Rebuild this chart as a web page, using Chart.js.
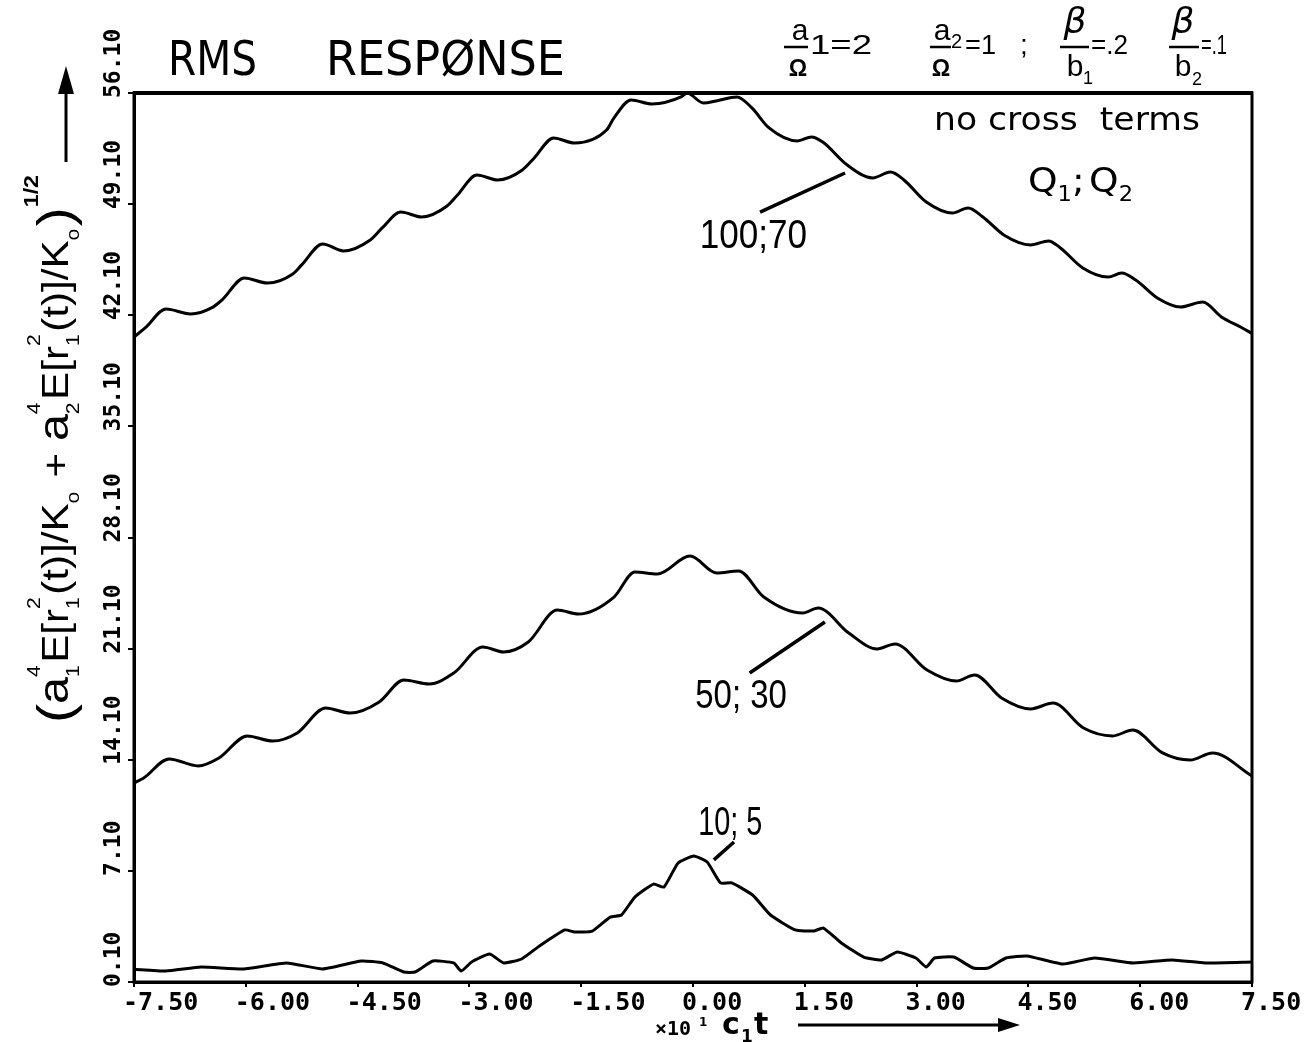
<!DOCTYPE html>
<html>
<head>
<meta charset="utf-8">
<script src="https://cdn.jsdelivr.net/npm/chart.js@4.4.0/dist/chart.umd.min.js"></script>
<style>
  html, body { margin: 0; padding: 0; background: #fff; }
  canvas { display: block; }
</style>
</head>
<body>
<canvas id="c" width="1309" height="1042"></canvas>
<script>
// ---------------- data ----------------
const xTickValues = [-7.5, -6, -4.5, -3, -1.5, 0, 1.5, 3, 4.5, 6, 7.5];
const xTickLabels = ['-7.50', '-6.00', '-4.50', '-3.00', '-1.50', '0.00', '1.50', '3.00', '4.50', '6.00', '7.50'];
const yTickValues = [0.1, 7.1, 14.1, 21.1, 28.1, 35.1, 42.1, 49.1, 56.1];
const yTickLabels = ['0.10', '7.10', '14.10', '21.10', '28.10', '35.10', '42.10', '49.10', '56.10'];

// Q1;Q2 = 100;70
const q100X = [-7.5, -7.35, -7.07, -6.74, -6.46, -6.32, -6.02, -5.71, -5.37, -5.25, -4.97, -4.69, -4.33, -4.17, -3.92, -3.64, -3.30, -3.16, -2.90, -2.62, -2.29, -2.13, -1.87, -1.59, -1.16, -1.06, -0.83, -0.55, -0.16, -0.08, 0.14, 0.31, 0.59, 0.79, 1.02, 1.40, 1.59, 1.74, 2.07, 2.41, 2.65, 2.83, 3.13, 3.48, 3.69, 3.89, 4.17, 4.53, 4.77, 4.93, 5.23, 5.57, 5.75, 5.94, 6.23, 6.54, 6.84, 7.09, 7.37, 7.5];
const q100Y = [40.73, 41.30, 42.49, 42.18, 42.56, 43.06, 44.45, 44.13, 44.70, 45.27, 46.59, 46.15, 46.84, 47.60, 48.60, 48.29, 48.98, 49.67, 50.93, 50.62, 51.25, 52.01, 53.27, 52.95, 53.77, 54.53, 55.66, 55.41, 55.85, 56.10, 55.47, 55.60, 55.85, 55.16, 53.90, 53.08, 53.33, 53.01, 51.56, 50.75, 51.12, 50.62, 49.23, 48.54, 48.86, 48.29, 47.16, 46.53, 46.78, 46.34, 45.08, 44.51, 44.76, 44.32, 43.19, 42.62, 42.93, 41.99, 41.30, 40.95];

// Q1;Q2 = 50;30
const q50X = [-7.5, -7.37, -7.03, -6.64, -6.36, -5.98, -5.64, -5.31, -4.93, -4.60, -4.21, -3.88, -3.54, -3.21, -2.82, -2.54, -2.21, -1.82, -1.54, -1.06, -0.78, -0.48, -0.04, 0.32, 0.61, 0.95, 1.47, 1.68, 2.09, 2.47, 2.71, 3.14, 3.53, 3.78, 4.14, 4.53, 4.83, 5.24, 5.63, 5.90, 6.30, 6.67, 6.97, 7.5];
const q50Y = [12.64, 12.95, 14.15, 13.71, 14.21, 15.60, 15.28, 15.79, 17.36, 17.04, 17.74, 19.12, 18.87, 19.56, 21.20, 20.89, 21.52, 23.53, 23.28, 24.35, 25.93, 25.80, 26.93, 25.86, 25.99, 24.35, 23.34, 23.66, 22.08, 21.08, 21.39, 19.75, 19.06, 19.44, 17.99, 17.30, 17.67, 16.10, 15.60, 15.97, 14.53, 14.08, 14.53, 13.08];

// Q1;Q2 = 10;5
const q10X = [-7.5, -7.07, -6.60, -6.03, -5.45, -4.97, -4.45, -4.16, -3.88, -3.73, -3.49, -3.21, -3.11, -2.97, -2.73, -2.54, -2.30, -2.06, -1.72, -1.59, -1.35, -1.11, -0.96, -0.78, -0.53, -0.39, -0.20, 0.01, 0.19, 0.37, 0.52, 0.80, 1.04, 1.37, 1.62, 1.75, 1.99, 2.29, 2.53, 2.74, 2.99, 3.13, 3.24, 3.50, 3.76, 3.96, 4.20, 4.48, 4.96, 5.39, 5.91, 6.43, 6.87, 7.5];
const q10Y = [0.90, 0.79, 1.04, 0.92, 1.30, 0.92, 1.42, 1.30, 0.73, 0.73, 1.42, 1.30, 0.79, 1.36, 1.86, 1.30, 1.55, 2.37, 3.38, 3.25, 3.31, 4.19, 4.32, 5.45, 6.27, 6.08, 7.60, 8.04, 7.66, 6.34, 6.34, 5.58, 4.32, 3.38, 3.31, 3.50, 2.56, 1.67, 1.49, 1.99, 1.61, 1.04, 1.61, 1.67, 0.98, 0.98, 1.61, 1.74, 1.23, 1.61, 1.30, 1.49, 1.30, 1.36];

const seriesLabels = ['100;70', '50; 30', '10; 5'];

// ---------------- helpers ----------------
function pts(xs, ys) { return xs.map((x, i) => ({ x: x, y: ys[i] })); }

function richWidth(ctx, segs, fam, base) { return drawRich(ctx, segs, fam, base, false); }
function drawRich(ctx, segs, fam, base, draw) {
  let x = 0;
  for (const s of segs) {
    if (s.t !== undefined) {
      const size = base * (s.scale || 1);
      ctx.font = (s.style || '') + ' ' + size + 'px ' + fam;
      const dy = (s.dy || 0) * base;
      if (draw) ctx.fillText(s.t, x, dy);
      x += ctx.measureText(s.t).width + (s.gap || 0) * base;
    } else {
      const size = base * 0.5;
      ctx.font = size + 'px ' + fam;
      let w = 0;
      if (s.sup) { if (draw) ctx.fillText(s.sup, x, -0.75 * base); w = Math.max(w, ctx.measureText(s.sup).width); }
      if (s.sub) { if (draw) ctx.fillText(s.sub, x, 0.3 * base); w = Math.max(w, ctx.measureText(s.sub).width); }
      x += w + 0.06 * base;
    }
  }
  return x;
}
function fitText(ctx, text, x, y, targetW, font) {
  ctx.save();
  ctx.font = font;
  ctx.textAlign = 'left';
  ctx.textBaseline = 'alphabetic';
  const w = ctx.measureText(text).width;
  ctx.translate(x, y);
  ctx.scale(targetW / w, 1);
  ctx.fillText(text, 0, 0);
  ctx.restore();
}
function txt(ctx, text, x, y, font, align) {
  ctx.font = font;
  ctx.textAlign = align || 'left';
  ctx.textBaseline = 'alphabetic';
  ctx.fillText(text, x, y);
}
function line(ctx, x1, y1, x2, y2, w) {
  ctx.beginPath(); ctx.lineWidth = w; ctx.moveTo(x1, y1); ctx.lineTo(x2, y2); ctx.stroke();
}

const decor = {
  id: 'decor',
  afterDraw(chart) {
    const ctx = chart.ctx;
    const xs = chart.scales.x, ys = chart.scales.y;
    const a = chart.chartArea;
    ctx.save();
    ctx.fillStyle = '#000';
    ctx.strokeStyle = '#000';
    ctx.lineCap = 'butt';

    // frame
    ctx.lineWidth = 3;
    ctx.strokeRect(a.left, a.top, a.right - a.left, a.bottom - a.top);
    line(ctx, a.left - 1, a.top, a.right + 1, a.top, 4);

    // rotated y tick labels (reading upward, starting at the tick)
    ctx.font = 'bold 23px "DejaVu Sans Mono"';
    ctx.textAlign = 'left';
    ctx.textBaseline = 'alphabetic';
    yTickValues.forEach((v, i) => {
      const py = ys.getPixelForValue(v);
      ctx.save();
      ctx.translate(120, py + 5);
      ctx.rotate(-Math.PI / 2);
      ctx.fillText(yTickLabels[i], 0, 0);
      ctx.restore();
    });

    // y axis title
    const fam = '"Liberation Sans", Arial, sans-serif';
    const segs = [
      { t: '(', scale: 1.35, dy: 0.12 }, { t: 'a', scale: 1.15 }, { sub: '1', sup: '4' }, { t: 'E[r' }, { sub: '1', sup: '2' }, { t: '(t)]/K' }, { sub: 'o' },
      { t: ' + ' }, { t: 'a', scale: 1.15 }, { sub: '2', sup: '4' }, { t: 'E[r' }, { sub: '1', sup: '2' }, { t: '(t)]/K' }, { sub: 'o' },
      { t: ')', scale: 1.35, dy: 0.12 }, { t: '1/2', scale: 0.55, dy: -0.8, style: 'bold' }
    ];
    ctx.save();
    ctx.textAlign = 'left';
    ctx.textBaseline = 'alphabetic';
    const base = 37;
    const tw = richWidth(ctx, segs, fam, base);
    ctx.translate(68, 723);
    ctx.rotate(-Math.PI / 2);
    ctx.scale(548 / tw, 1);
    drawRich(ctx, segs, fam, base, true);
    ctx.restore();

    // y axis arrow
    line(ctx, 66, 162, 66, 88, 3);
    ctx.beginPath(); ctx.moveTo(66, 66); ctx.lineTo(58, 94); ctx.lineTo(74, 94); ctx.closePath(); ctx.fill();

    // x axis label and arrow
    txt(ctx, '\u00d710', 655, 1035, 'bold 20px "DejaVu Sans Mono"');
    txt(ctx, '1', 699, 1026, 'bold 12px "DejaVu Sans"');
    txt(ctx, 'c', 722, 1034, 'bold 30px "DejaVu Sans"');
    txt(ctx, '1', 741, 1042, 'bold 17px "DejaVu Sans"');
    txt(ctx, 't', 754, 1034, 'bold 30px "DejaVu Sans"');
    line(ctx, 798, 1025, 1004, 1025, 3);
    ctx.beginPath(); ctx.moveTo(1020, 1025); ctx.lineTo(998, 1018); ctx.lineTo(998, 1032); ctx.closePath(); ctx.fill();

    // title
    fitText(ctx, 'RMS', 168, 75, 89, '48px "DejaVu Sans"');
    fitText(ctx, 'RESP\u00d8NSE', 326, 75, 239, '48px "DejaVu Sans"');

    // header parameters
    const hf = '"Liberation Sans", Arial, sans-serif';
    // a1/Omega = 2
    txt(ctx, 'a', 800, 40, '30px ' + hf, 'center');
    line(ctx, 784, 47, 808, 47, 2.5);
    txt(ctx, '\u03a9', 798, 76, 'bold 23px ' + hf, 'center');
    fitText(ctx, '1=2', 810, 54, 62, '28px ' + hf);
    // a2/Omega = 1 ;
    txt(ctx, 'a', 942, 40, '30px ' + hf, 'center');
    line(ctx, 930, 47, 951, 47, 2.5);
    txt(ctx, '\u03a9', 941, 76, 'bold 23px ' + hf, 'center');
    txt(ctx, '2', 951, 48, '20px ' + hf);
    fitText(ctx, '=1', 965, 54, 31, '28px ' + hf);
    txt(ctx, ';', 1020, 54, '28px ' + hf);
    // beta/b1 = .2
    txt(ctx, '\u03b2', 1075, 33, 'italic 36px "DejaVu Sans"', 'center');
    line(ctx, 1060, 47, 1089, 47, 2.5);
    txt(ctx, 'b', 1075, 76, '30px ' + hf, 'center');
    txt(ctx, '1', 1083, 84, '18px ' + hf);
    fitText(ctx, '=.2', 1091, 54, 37, '28px ' + hf);
    // beta/b2 = .1
    txt(ctx, '\u03b2', 1183, 33, 'italic 36px "DejaVu Sans"', 'center');
    line(ctx, 1169, 47, 1199, 47, 2.5);
    txt(ctx, 'b', 1183, 76, '30px ' + hf, 'center');
    txt(ctx, '2', 1192, 85, '18px ' + hf);
    fitText(ctx, '=.1', 1201, 54, 26, '28px ' + hf);

    // in-plot notes
    fitText(ctx, 'no cross  terms', 934, 130, 266, '32px "DejaVu Sans"');
    const qs = [{ t: 'Q' }, { t: '1', scale: 0.6, dy: 0.25 }, { t: ';', gap: 0.12 }, { t: 'Q' }, { t: '2', scale: 0.6, dy: 0.25 }];
    ctx.save();
    ctx.textAlign = 'left'; ctx.textBaseline = 'alphabetic';
    const qw = richWidth(ctx, qs, '"DejaVu Sans"', 34);
    ctx.translate(1028, 192);
    ctx.scale(105 / qw, 1);
    drawRich(ctx, qs, '"DejaVu Sans"', 34, true);
    ctx.restore();

    // curve labels with leader lines (positioned in data coordinates)
    const lf = '40px "Liberation Sans", Arial, sans-serif';
    const notes = [
      { text: seriesLabels[0], x0: 0.09, x1: 1.53, y: 46.34, l: [0.90, 48.60, 2.04, 51.06] },
      { text: seriesLabels[1], x0: 0.03, x1: 1.26, y: 17.36, l: [0.76, 19.56, 1.77, 22.78] },
      { text: seriesLabels[2], x0: 0.07, x1: 0.93, y: 9.36, l: [0.28, 7.79, 0.55, 8.92] }
    ];
    notes.forEach(n => {
      const px0 = xs.getPixelForValue(n.x0), px1 = xs.getPixelForValue(n.x1);
      fitText(ctx, n.text, px0, ys.getPixelForValue(n.y), px1 - px0, lf);
      line(ctx, xs.getPixelForValue(n.l[0]), ys.getPixelForValue(n.l[1]), xs.getPixelForValue(n.l[2]), ys.getPixelForValue(n.l[3]), 3.5);
    });

    ctx.restore();
  }
};

const lineStyle = { showLine: true, borderColor: '#000', borderWidth: 3, pointRadius: 0, fill: false, cubicInterpolationMode: 'monotone' };
const jaggedStyle = { showLine: true, borderColor: '#000', borderWidth: 3, pointRadius: 0, fill: false, tension: 0.15 };

new Chart(document.getElementById('c').getContext('2d'), {
  type: 'scatter',
  data: {
    datasets: [
      Object.assign({ label: seriesLabels[0], data: pts(q100X, q100Y) }, lineStyle),
      Object.assign({ label: seriesLabels[1], data: pts(q50X, q50Y) }, lineStyle),
      Object.assign({ label: seriesLabels[2], data: pts(q10X, q10Y) }, jaggedStyle)
    ]
  },
  options: {
    responsive: false,
    animation: false,
    devicePixelRatio: 1,
    layout: { padding: { left: 94, right: 57, top: 93, bottom: 20 } },
    plugins: { legend: { display: false }, tooltip: { enabled: false } },
    scales: {
      x: {
        type: 'linear', min: -7.5, max: 7.5,
        afterBuildTicks: (axis) => { axis.ticks = xTickValues.map(v => ({ value: v })); },
        afterFit: (s) => { s.height = 40; s.paddingLeft = 0; s.paddingRight = 0; },
        ticks: {
          callback: (v, i) => xTickLabels[i],
          color: '#000', font: { family: '"DejaVu Sans Mono"', size: 25, weight: 'bold' },
          align: 'start', labelOffset: -11, padding: 1, maxRotation: 0, minRotation: 0, autoSkip: false
        },
        grid: { drawOnChartArea: false, tickLength: 5, color: '#000', lineWidth: 2 },
        border: { color: '#000', width: 3 }
      },
      y: {
        type: 'linear', min: 0.1, max: 56.1,
        afterBuildTicks: (axis) => { axis.ticks = yTickValues.map(v => ({ value: v })); },
        afterFit: (s) => { s.width = 40; s.paddingTop = 0; s.paddingBottom = 0; },
        ticks: { display: false },
        grid: { drawOnChartArea: false, tickLength: 6, color: '#000', lineWidth: 2 },
        border: { color: '#000', width: 3 }
      }
    }
  },
  plugins: [decor]
});
</script>
</body>
</html>
